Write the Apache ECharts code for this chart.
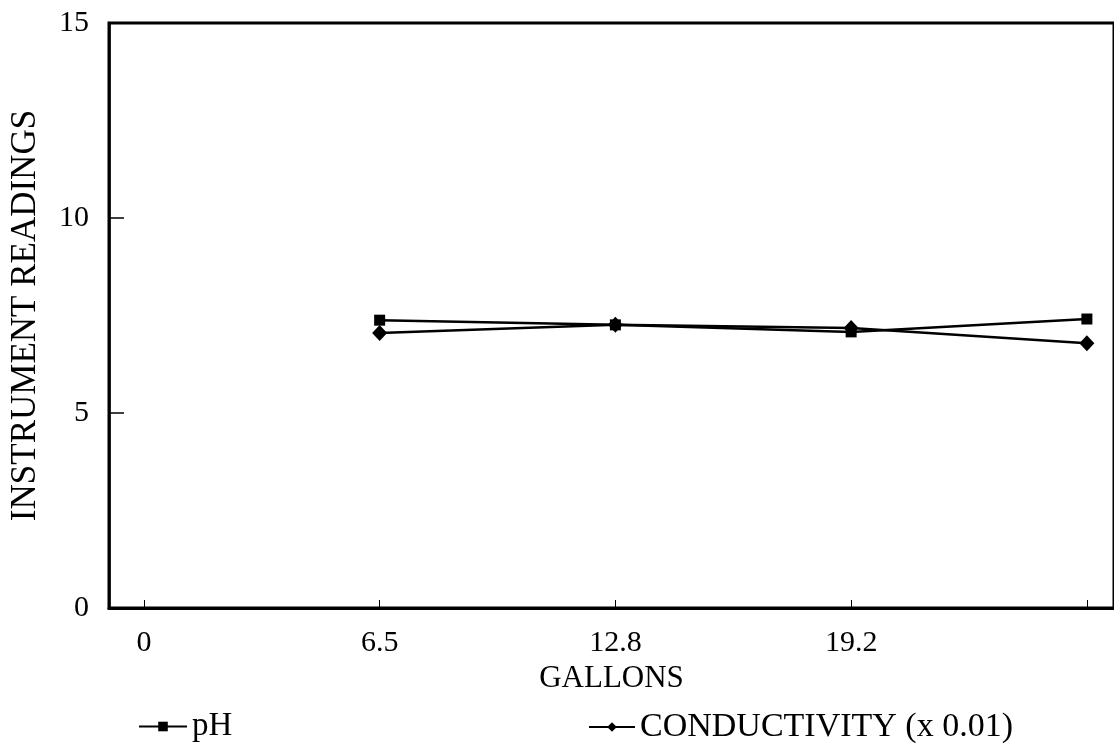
<!DOCTYPE html>
<html>
<head>
<meta charset="utf-8">
<script src="https://cdn.jsdelivr.net/npm/echarts@6/dist/echarts.min.js"></script>
<style>html,body{margin:0;padding:0;background:#fff;}#c{width:1114px;height:746px;}</style>
</head>
<body>
<div id="c"></div>
<script>
const categories = ['0', '6.5', '12.8', '19.2', ''];
const phValues = [null, 7.38, 7.26, 7.08, 7.41];
const condValues = [null, 7.05, 7.26, 7.18, 6.79];
const yTicks = [0, 5, 10, 15];

const FONT = "'Liberation Serif', 'DejaVu Serif', serif";
const chart = echarts.init(document.getElementById('c'), null, {renderer: 'canvas'});
const idx = categories.map((c, i) => i);
function pts(vals) { return vals.map((v, i) => [i, v]).filter(p => p[1] !== null); }

chart.setOption({
  animation: false,
  backgroundColor: '#fff',
  grid: {left: 109, right: -4, top: 23, bottom: 138, show: true, borderColor: '#000', borderWidth: 3, backgroundColor: 'transparent'},
  xAxis: {
    type: 'value', min: -0.148, max: 4.115,
    name: 'GALLONS', nameLocation: 'middle', nameGap: 46,
    nameTextStyle: {fontFamily: FONT, fontSize: 31, color: '#000'},
    axisLine: {show: true, lineStyle: {color: '#000', width: 3}},
    axisTick: {show: true, inside: true, length: 8, customValues: idx, lineStyle: {color: '#000', width: 1}},
    axisLabel: {customValues: idx, formatter: v => categories[Math.round(v)] || '', margin: 20, fontFamily: FONT, fontSize: 30, color: '#000'},
    splitLine: {show: false}
  },
  yAxis: {
    type: 'value', min: 0, max: 15, interval: 5,
    name: 'INSTRUMENT READINGS', nameLocation: 'middle', nameGap: 66,
    nameTextStyle: {fontFamily: FONT, fontSize: 35, color: '#000'},
    axisLine: {show: true, onZero: false, lineStyle: {color: '#000', width: 2.5}},
    axisTick: {show: true, inside: true, length: 15, lineStyle: {color: '#000', width: 1.5}},
    axisLabel: {customValues: yTicks, margin: 20, fontFamily: FONT, fontSize: 30, color: '#000'},
    splitLine: {show: false}
  },
  legend: [
    {left: 133, top: 705, itemWidth: 48, itemHeight: 12, itemGap: 4,
     textStyle: {fontFamily: FONT, fontSize: 33, color: '#000', padding: [0, 0, 20, 0]}, data: ['pH']},
    {left: 583, top: 705, itemWidth: 46, itemHeight: 12, itemGap: 4,
     textStyle: {fontFamily: FONT, fontSize: 34, color: '#000', padding: [0, 0, 20, 0]}, data: ['CONDUCTIVITY (x 0.01)']}
  ],
  series: [
    {name: 'pH', type: 'line', data: pts(phValues), symbol: 'rect', symbolSize: 11,
     lineStyle: {color: '#000', width: 2.5}, itemStyle: {color: '#000'}},
    {name: 'CONDUCTIVITY (x 0.01)', type: 'line', data: pts(condValues), symbol: 'diamond', symbolSize: [15, 16],
     lineStyle: {color: '#000', width: 2.5}, itemStyle: {color: '#000'}}
  ]
});
</script>
</body>
</html>
